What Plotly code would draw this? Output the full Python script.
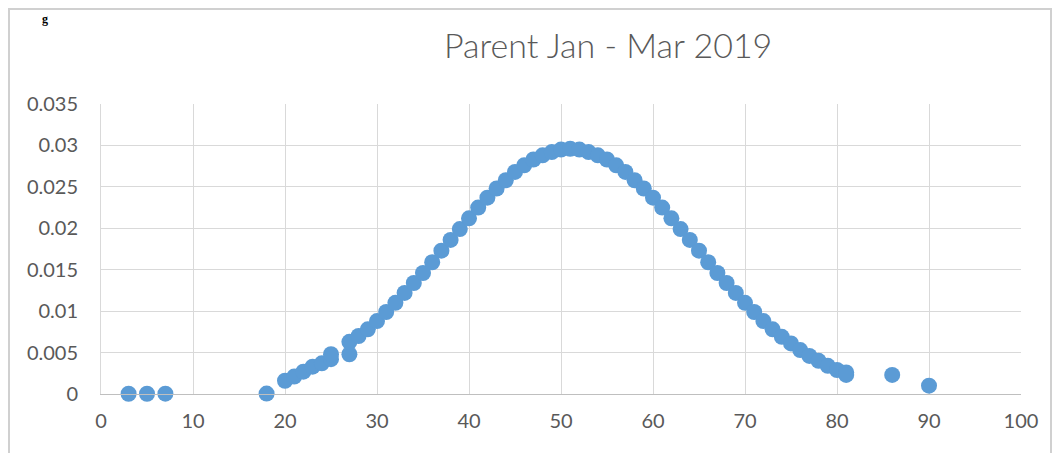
import plotly.graph_objects as go

# Parent age (x) and density (y)
age = [3, 5, 7, 18,
       20, 21, 22, 23, 24, 25, 25, 27, 27, 28, 29,
       30, 31, 32, 33, 34, 35, 36, 37, 38, 39,
       40, 41, 42, 43, 44, 45, 46, 47, 48, 49,
       50, 51, 52, 53, 54, 55, 56, 57, 58, 59,
       60, 61, 62, 63, 64, 65, 66, 67, 68, 69,
       70, 71, 72, 73, 74, 75, 76, 77, 78, 79,
       80, 81, 81, 86, 90]
density = [0.00003, 0.00003, 0.00004, 0.00005,
           0.0016, 0.0021, 0.0027, 0.0033, 0.0037, 0.0042, 0.0048, 0.0048, 0.0063, 0.0070, 0.0078,
           0.0088, 0.0099, 0.0110, 0.0122, 0.0134, 0.0146, 0.0159, 0.0173, 0.0186, 0.0199,
           0.0212, 0.0225, 0.0237, 0.0248, 0.0258, 0.0268, 0.0276, 0.0283, 0.0288, 0.0292,
           0.0295, 0.0296, 0.0295, 0.0292, 0.0288, 0.0283, 0.0276, 0.0268, 0.0258, 0.0248,
           0.0237, 0.0225, 0.0212, 0.0199, 0.0186, 0.0173, 0.0159, 0.0146, 0.0134, 0.0122,
           0.0110, 0.0099, 0.0088, 0.0078, 0.0069, 0.0061, 0.0053, 0.0046, 0.0040, 0.0034,
           0.0029, 0.0026, 0.0023, 0.0023, 0.0010]

title_text = "Parent Jan - Mar 2019"
x_ticks = [0, 10, 20, 30, 40, 50, 60, 70, 80, 90, 100]
y_ticks = [0, 0.005, 0.01, 0.015, 0.02, 0.025, 0.03, 0.035]
y_tick_labels = ["0", "0.005", "0.01", "0.015", "0.02", "0.025", "0.03", "0.035"]

fig = go.Figure()
fig.add_trace(go.Scatter(
    x=age, y=density, mode="markers",
    marker=dict(color="#5B9BD5", size=16, line=dict(width=0)),
    showlegend=False, cliponaxis=False,
))

W, H = 1060, 453
OFF = 8  # page body margin offset
L, R, T, B = 101, 1021, 104, 394   # target screen pixels of the plot area
pw, ph = R - L, B - T

def px(xp):
    return (xp - L) / pw

def py(yp):
    return (B - yp) / ph

fig.update_layout(
    width=W, height=H,
    margin=dict(l=L - OFF, r=W - (R - OFF), t=T - OFF, b=H - (B - OFF)),
    paper_bgcolor="white", plot_bgcolor="white",
    font=dict(family="Lato, 'Open Sans', sans-serif", color="#595959", size=18),
    xaxis=dict(range=[0, 100], tickvals=x_ticks, showgrid=True, gridcolor="#D9D9D9",
               gridwidth=1, zeroline=False, showline=True, linecolor="#BFBFBF",
               linewidth=1, ticks="outside", ticklen=9, tickcolor="rgba(0,0,0,0)",
               tickfont=dict(size=20, color="#595959")),
    yaxis=dict(range=[0, 0.035], tickvals=y_ticks, ticktext=y_tick_labels,
               showgrid=True, gridcolor="#D9D9D9", gridwidth=1, zeroline=False,
               showline=True, linecolor="#D9D9D9", linewidth=1, ticks="outside",
               ticklen=18, tickcolor="rgba(0,0,0,0)",
               tickfont=dict(size=20, color="#595959")),
    shapes=[dict(type="rect", xref="paper", yref="paper",
                 x0=px(9), x1=px(1051), y0=py(470), y1=py(9),
                 line=dict(color="#D0D0D0", width=2), fillcolor="rgba(0,0,0,0)",
                 layer="above")],
    annotations=[
        dict(text=title_text, xref="paper", yref="paper", x=px(608), y=py(44),
             xanchor="center", yanchor="middle", showarrow=False,
             font=dict(size=34, weight=300, color="#595959",
                       family="Lato, 'Open Sans', sans-serif")),
        dict(text="<b>g</b>", xref="paper", yref="paper", x=px(40), y=py(10),
             xanchor="left", yanchor="top", showarrow=False,
             font=dict(size=12, color="black", family="Liberation Serif")),
    ],
)

fig.write_html("out.html")
